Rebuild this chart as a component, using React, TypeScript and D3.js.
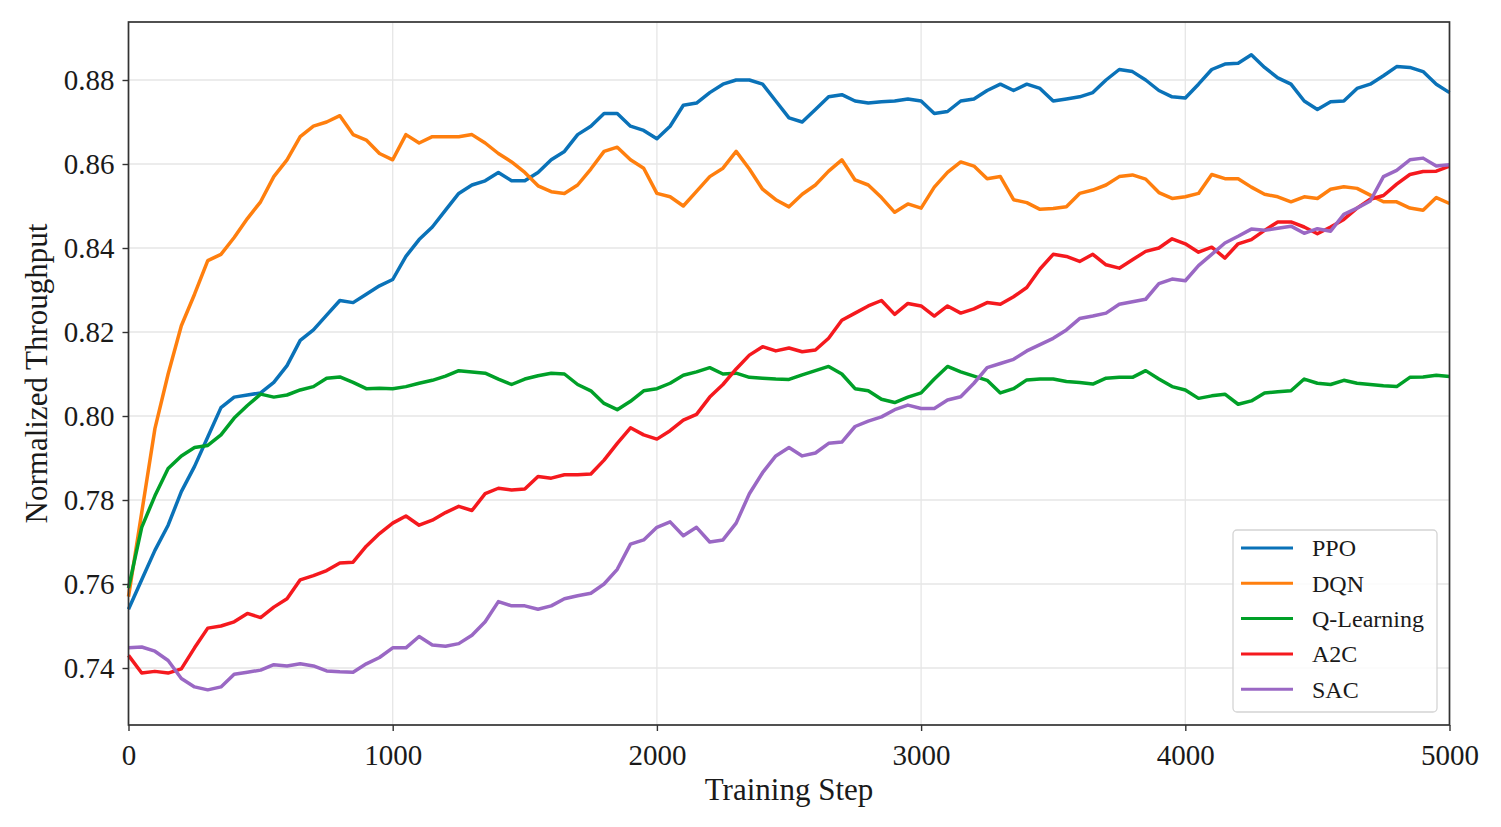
import { useEffect, useRef } from "react"
import * as d3 from "d3"

// training steps sampled every 50 steps
const STEPS = d3.range(0, 5001, 50)

const PPO = [
  0.754, 0.761, 0.768, 0.774, 0.782, 0.788, 0.795, 0.802, 0.8045, 0.805,
  0.8055, 0.808, 0.812, 0.818, 0.8205, 0.824, 0.8275, 0.827, 0.829, 0.831,
  0.8325, 0.838, 0.842, 0.845, 0.849, 0.853, 0.855, 0.856, 0.858, 0.856,
  0.856, 0.858, 0.861, 0.863, 0.867, 0.869, 0.872, 0.872, 0.869, 0.868,
  0.866, 0.869, 0.874, 0.8745, 0.877, 0.879, 0.88, 0.88, 0.879, 0.875,
  0.871, 0.87, 0.873, 0.876, 0.8765, 0.875, 0.8745, 0.8748, 0.875, 0.8755,
  0.875, 0.872, 0.8725, 0.875, 0.8755, 0.8775, 0.879, 0.8775, 0.879, 0.878,
  0.875, 0.8755, 0.876, 0.877, 0.88, 0.8825, 0.882, 0.88, 0.8775, 0.876,
  0.8757, 0.879, 0.8825, 0.8838, 0.884, 0.886, 0.883, 0.8805, 0.879, 0.875,
  0.873, 0.8748, 0.875, 0.878, 0.879, 0.881, 0.8832, 0.883, 0.882, 0.879,
  0.877,
]

const DQN = [
  0.757, 0.777, 0.797, 0.81, 0.8215, 0.829, 0.837, 0.8385, 0.8425, 0.847,
  0.851, 0.857, 0.861, 0.8665, 0.869, 0.87, 0.8715, 0.867, 0.8657, 0.8625,
  0.861, 0.867, 0.865, 0.8665, 0.8665, 0.8665, 0.867, 0.865, 0.8625, 0.8605,
  0.858, 0.8548, 0.8534, 0.853, 0.855, 0.8588, 0.863, 0.864, 0.861, 0.859,
  0.853, 0.8522, 0.85, 0.8535, 0.857, 0.859, 0.863, 0.8588, 0.854, 0.8515,
  0.8498, 0.8528, 0.855, 0.8583, 0.861, 0.8562, 0.855, 0.852, 0.8485, 0.8505,
  0.8495, 0.8545, 0.858, 0.8605, 0.8595, 0.8565, 0.857, 0.8515, 0.8508, 0.8492,
  0.8494, 0.8498, 0.853, 0.8538, 0.855, 0.857, 0.8574, 0.8564, 0.8532, 0.8518,
  0.8522, 0.853, 0.8575, 0.8565, 0.8565, 0.8545, 0.8528, 0.8522, 0.851, 0.8522,
  0.8518, 0.854, 0.8546, 0.8542, 0.8526, 0.851, 0.851, 0.8495, 0.849, 0.852,
  0.8506,
]

const QLEARNING = [
  0.759, 0.7735, 0.781, 0.7875, 0.7905, 0.7925, 0.793, 0.7955, 0.7995, 0.8025,
  0.8052, 0.8045, 0.805, 0.8062, 0.807, 0.809, 0.8093, 0.808, 0.8065, 0.8066,
  0.8065, 0.807, 0.8078, 0.8085, 0.8095, 0.8108, 0.8105, 0.8102, 0.8088, 0.8075,
  0.8088, 0.8096, 0.8102, 0.81, 0.8075, 0.806, 0.803, 0.8015, 0.8035, 0.806,
  0.8065, 0.8078, 0.8097, 0.8105, 0.8115, 0.81, 0.8102, 0.8092, 0.809, 0.8088,
  0.8087, 0.8098, 0.8108, 0.8118, 0.81, 0.8065, 0.806, 0.804, 0.8032, 0.8045,
  0.8055, 0.8088, 0.8118, 0.8105, 0.8095, 0.8085, 0.8055, 0.8065, 0.8086, 0.8088,
  0.8088, 0.8082, 0.808, 0.8076, 0.809, 0.8092, 0.8092, 0.8108, 0.8088, 0.807,
  0.8062, 0.8042, 0.8048, 0.8052, 0.8028, 0.8036, 0.8055, 0.8058, 0.806, 0.8088,
  0.8078, 0.8075, 0.8085, 0.8078, 0.8075, 0.8072, 0.807, 0.8092, 0.8093, 0.8097,
  0.8094,
]

const A2C = [
  0.743, 0.7388, 0.7392, 0.7388, 0.7398, 0.7448, 0.7495, 0.75, 0.751, 0.753,
  0.752, 0.7545, 0.7565, 0.761, 0.762, 0.7632, 0.765, 0.7652, 0.769, 0.772,
  0.7745, 0.7762, 0.774, 0.7752, 0.777, 0.7785, 0.7775, 0.7815, 0.7828, 0.7824,
  0.7826, 0.7856, 0.7852, 0.786, 0.786, 0.7862, 0.7895, 0.7935, 0.7972, 0.7955,
  0.7945, 0.7965, 0.799, 0.8004, 0.8045, 0.8075, 0.8112, 0.8145, 0.8165, 0.8155,
  0.8162, 0.8153, 0.8157, 0.8185, 0.8228, 0.8245, 0.8262, 0.8275, 0.8242, 0.8268,
  0.8262, 0.8238, 0.8262, 0.8245, 0.8255, 0.827, 0.8266, 0.8284, 0.8306, 0.835,
  0.8385, 0.838, 0.8368, 0.8385, 0.836, 0.8352, 0.8372, 0.8392, 0.84, 0.8422,
  0.841, 0.839, 0.8402, 0.8376, 0.841, 0.842, 0.8442, 0.8462, 0.8462, 0.845,
  0.8434, 0.845, 0.8468, 0.8495, 0.8516, 0.8525, 0.8552, 0.8575, 0.8582, 0.8583,
  0.8595,
]

const SAC = [
  0.7448, 0.745, 0.744, 0.7418, 0.7375, 0.7355, 0.7348, 0.7355, 0.7385, 0.739,
  0.7395, 0.7408, 0.7405, 0.741, 0.7405, 0.7393, 0.7391, 0.739, 0.741, 0.7425,
  0.7448, 0.7448, 0.7475, 0.7455, 0.7452, 0.7458, 0.7478, 0.751, 0.7558, 0.7548,
  0.7548, 0.754, 0.7548, 0.7565, 0.7572, 0.7578, 0.76, 0.7635, 0.7695, 0.7705,
  0.7735, 0.7748, 0.7715, 0.7735, 0.77, 0.7705, 0.7745, 0.7815, 0.7865, 0.7905,
  0.7925, 0.7905, 0.7912, 0.7935, 0.7938, 0.7975, 0.7988, 0.7998, 0.8015, 0.8026,
  0.8018, 0.8018, 0.8038, 0.8046, 0.8078, 0.8115, 0.8125, 0.8135, 0.8155, 0.817,
  0.8185, 0.8205, 0.8232, 0.8238, 0.8245, 0.8266, 0.8272, 0.8278, 0.8315, 0.8326,
  0.8322, 0.8358, 0.8385, 0.8412, 0.8428, 0.8445, 0.8442, 0.8447, 0.8452, 0.8435,
  0.8446, 0.844, 0.848, 0.8495, 0.8512, 0.857, 0.8585, 0.861, 0.8614, 0.8595,
  0.8598,
]

const SERIES_NAMES = ["PPO", "DQN", "Q-Learning", "A2C", "SAC"]
const SERIES_VALUES = [PPO, DQN, QLEARNING, A2C, SAC]
const SERIES_COLORS = ["#0a72b8", "#ff7f0e", "#00a028", "#f5191e", "#9a68c4"]

const X_TICKS = [0, 1000, 2000, 3000, 4000, 5000]
const Y_TICKS = [0.74, 0.76, 0.78, 0.8, 0.82, 0.84, 0.86, 0.88]

const WIDTH = 1501
const HEIGHT = 827
const FONT = "'Liberation Serif', 'Times New Roman', serif"

export default function App() {
  const svgRef = useRef<SVGSVGElement>(null)

  useEffect(() => {
    if (!svgRef.current) return
    const svg = d3.select(svgRef.current)
    svg.selectAll("*").remove()

    const left = 128.5
    const right = 1449.5
    const top = 22
    const bottom = 725

    const x = d3.scaleLinear().domain([0, 5000]).range([left, right])
    const y = d3.scaleLinear().domain([0.72643, 0.89381]).range([bottom, top])

    svg.append("rect").attr("width", WIDTH).attr("height", HEIGHT).attr("fill", "#fff")

    // grid
    const grid = svg.append("g").attr("stroke", "#e6e6e6").attr("stroke-width", 1.3)
    X_TICKS.forEach((t) => {
      grid.append("line").attr("x1", x(t)).attr("x2", x(t)).attr("y1", top).attr("y2", bottom)
    })
    Y_TICKS.forEach((t) => {
      grid.append("line").attr("x1", left).attr("x2", right).attr("y1", y(t)).attr("y2", y(t))
    })

    // lines
    const line = d3.line<number>()
      .x((_, i) => x(STEPS[i]))
      .y((d) => y(d))

    const plot = svg.append("g")
    SERIES_VALUES.forEach((vals, i) => {
      plot.append("path")
        .datum(vals)
        .attr("d", line)
        .attr("fill", "none")
        .attr("stroke", SERIES_COLORS[i])
        .attr("stroke-width", 3.5)
        .attr("stroke-linejoin", "round")
    })

    // frame
    svg.append("rect")
      .attr("x", left).attr("y", top)
      .attr("width", right - left).attr("height", bottom - top)
      .attr("fill", "none").attr("stroke", "#333").attr("stroke-width", 1.7)

    // axes
    const xAxis = svg.append("g").attr("transform", `translate(0,${bottom})`)
      .call(d3.axisBottom(x).tickValues(X_TICKS).tickSize(6).tickPadding(8).tickFormat(d3.format("d")))
    const yAxis = svg.append("g").attr("transform", `translate(${left},0)`)
      .call(d3.axisLeft(y).tickValues(Y_TICKS).tickSize(6).tickPadding(8).tickFormat(d3.format(".2f")))

    ;[xAxis, yAxis].forEach((a) => {
      a.select(".domain").remove()
      a.selectAll(".tick line").attr("stroke", "#333").attr("stroke-width", 1.4)
      a.selectAll(".tick text")
        .attr("fill", "#1a1a1a")
        .style("font-family", FONT)
        .style("font-size", "29px")
    })
    xAxis.selectAll(".tick text").attr("dy", "0.9em")
    yAxis.selectAll(".tick text").attr("dy", "0.34em")

    // axis titles
    svg.append("text")
      .attr("x", (left + right) / 2).attr("y", 800)
      .attr("text-anchor", "middle")
      .attr("fill", "#1a1a1a")
      .style("font-family", FONT).style("font-size", "31px")
      .text("Training Step")

    svg.append("text")
      .attr("transform", `translate(47,${(top + bottom) / 2}) rotate(-90)`)
      .attr("text-anchor", "middle")
      .attr("fill", "#1a1a1a")
      .style("font-family", FONT).style("font-size", "31px")
      .text("Normalized Throughput")

    // legend
    const lg = svg.append("g")
    lg.append("rect")
      .attr("x", 1233).attr("y", 530).attr("width", 204).attr("height", 182)
      .attr("rx", 4)
      .attr("fill", "#fff").attr("fill-opacity", 0.85)
      .attr("stroke", "#d4d4d4").attr("stroke-width", 1.3)

    SERIES_NAMES.forEach((name, i) => {
      const ry = 548 + i * 35.3
      lg.append("line")
        .attr("x1", 1241).attr("x2", 1293).attr("y1", ry).attr("y2", ry)
        .attr("stroke", SERIES_COLORS[i]).attr("stroke-width", 3)
      lg.append("text")
        .attr("x", 1312).attr("y", ry).attr("dy", "0.35em")
        .attr("fill", "#1a1a1a")
        .style("font-family", FONT).style("font-size", "24px")
        .text(name)
    })
  }, [])

  return (
    <div style={{ position: "absolute", left: 0, top: 0 }}>
      <svg ref={svgRef} width={WIDTH} height={HEIGHT} style={{ display: "block" }} />
    </div>
  )
}
